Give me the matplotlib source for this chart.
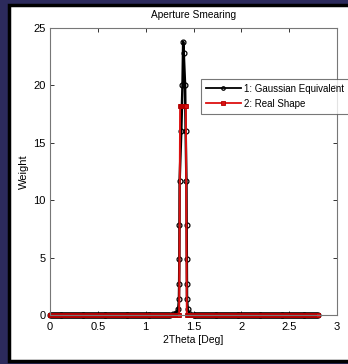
import matplotlib.pyplot as plt
import matplotlib.patches as patches
import numpy as np

plt.rcParams['font.family'] = ['Liberation Sans', 'DejaVu Sans']

# sample grid along 2Theta (both curves are flat zero away from the peak)
grid_x = np.round(np.linspace(0, 2.8, 281), 3)

# 1: Gaussian Equivalent - values read around the peak
gauss_peak_x = [1.25, 1.29, 1.32, 1.34, 1.348, 1.350, 1.352, 1.353, 1.355, 1.372, 1.385,
                1.392, 1.398, 1.412, 1.418, 1.426, 1.428, 1.429, 1.430, 1.432, 1.44, 1.46, 1.50]
gauss_peak_y = [0.02, 0.1, 0.2, 0.5, 1.4, 2.7, 4.9, 7.8, 11.7, 16.0, 20.0,
                23.8, 22.8, 20.0, 16.0, 11.7, 7.8, 4.9, 2.7, 1.4, 0.5, 0.1, 0.02]

# 2: Real Shape - box from 1.36 to 1.42
real_top_x = [1.36, 1.37, 1.38, 1.39, 1.40, 1.41, 1.42]
real_top_y = [18.2, 18.2, 18.2, 18.2, 18.2, 18.2, 18.2]

g_x = np.concatenate([grid_x[grid_x < 1.25], gauss_peak_x, grid_x[grid_x > 1.50]])
g_y = np.concatenate([np.zeros((grid_x < 1.25).sum()), gauss_peak_y, np.zeros((grid_x > 1.50).sum())])

r_x = np.concatenate([grid_x[grid_x < 1.355], real_top_x, grid_x[grid_x > 1.425]])
r_y = np.concatenate([np.zeros((grid_x < 1.355).sum()), real_top_y, np.zeros((grid_x > 1.425).sum())])

fig = plt.figure(figsize=(3.48, 3.64), dpi=100)
fig.patch.set_facecolor('#2c2a5c')

# white slide panel with black frame
panel = patches.Rectangle((9 / 348, 3 / 364), 1.2, 1 - 8 / 364, transform=fig.transFigure,
                          facecolor='white', edgecolor='black', linewidth=2.5, zorder=-5)
fig.patches.append(panel)

ax = fig.add_axes([50 / 348, 49 / 364, 287 / 348, 287 / 364])
ax.set_zorder(2)

ax.plot(g_x, g_y, color='black', linewidth=1.8, marker='o', markersize=3.5,
        markerfacecolor='none', markeredgewidth=0.9, label='1: Gaussian Equivalent',
        clip_on=False)
ax.plot(r_x, r_y, color='#dd1010', linewidth=1.4, marker='s', markersize=2.8,
        markeredgewidth=0.6, markeredgecolor='#b00000', label='2: Real Shape',
        clip_on=False)

ax.set_xlim(0, 3)
ax.set_ylim(0, 25)
ax.set_xticks([0, 0.5, 1, 1.5, 2, 2.5, 3])
ax.set_xticklabels(['0', '0.5', '1', '1.5', '2', '2.5', '3'])
ax.set_yticks([0, 5, 10, 15, 20, 25])
ax.tick_params(direction='in', top=True, right=True, length=3, width=0.7,
               labelsize=8, colors='#333333', labelcolor='black')
ax.tick_params(axis='x', pad=5)
ax.tick_params(axis='y', pad=3)
for s in ax.spines.values():
    s.set_color('#777777')
    s.set_linewidth(0.8)

ax.set_title('Aperture Smearing', fontsize=7.3, pad=7)
ax.set_xlabel('2Theta [Deg]', fontsize=7.5, labelpad=2)
ax.set_ylabel('Weight', fontsize=8, labelpad=3)

leg = ax.legend(loc='upper left', bbox_to_anchor=(201 / 348, 1 - 79 / 364),
                bbox_transform=fig.transFigure, fontsize=7, frameon=True, fancybox=False,
                handlelength=3.6, handletextpad=0.3, borderpad=0.5, labelspacing=0.5,
                borderaxespad=0)
leg.get_frame().set_edgecolor('#555555')
leg.get_frame().set_linewidth(0.8)
for h in leg.legend_handles:
    h.set_linewidth(1.3)
    h.set_markersize(2.5)

fig.savefig('out.png', dpi=100, facecolor=fig.get_facecolor())
